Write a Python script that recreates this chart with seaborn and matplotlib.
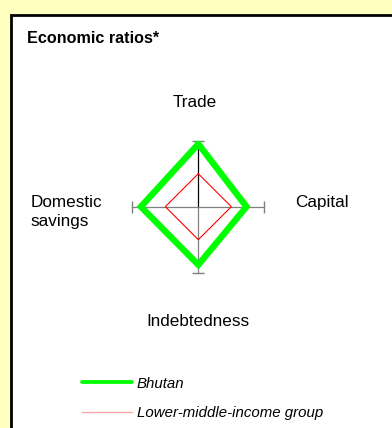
import matplotlib
matplotlib.use('Agg')
import matplotlib.pyplot as plt
import seaborn as sns
import pandas as pd
from matplotlib.patches import Rectangle
from matplotlib.lines import Line2D

# ---- data ----
axis_names = ['Trade', 'Capital', 'Indebtedness', 'Domestic savings']
bhutan = [0.95, 0.73, 0.88, 0.87]
group = [0.50, 0.50, 0.50, 0.50]
series_names = ['Bhutan', 'Lower-middle-income group']
title = 'Economic ratios*'

sns.set_style('white')
plt.rcParams['font.family'] = ['Liberation Sans', 'DejaVu Sans']
plt.rcParams['text.color'] = 'black'

W, H = 392, 428
fig = plt.figure(figsize=(W / 100, H / 100), dpi=100)
fig.patch.set_facecolor('#FFFFC0')

def fx(px):
    return px / W

def fy(py):
    return 1 - py / H

# white panel with black frame
fig.patches.append(Rectangle((fx(10.8), -0.1), 1.2, fy(14.6) + 0.1,
                             transform=fig.transFigure, facecolor='white',
                             edgecolor='black', linewidth=2.0, zorder=-5))

# radar axes: centre at (198.3, 206.7) px, 1 unit = 66 px
cx, cy, unit, ext = 198.3, 206.7, 66.0, 1.25
ax = fig.add_axes([fx(cx - ext * unit), fy(cy + ext * unit),
                   2 * ext * unit / W, 2 * ext * unit / H], zorder=2)
ax.patch.set_alpha(0)

directions = {'Trade': (0, 1), 'Capital': (1, 0),
              'Indebtedness': (0, -1), 'Domestic savings': (-1, 0)}

def polygon(values, name):
    rows = []
    for i, (a, v) in enumerate(zip(axis_names + axis_names[:1], values + values[:1])):
        dx, dy = directions[a]
        rows.append({'order': i, 'x': v * dx, 'y': v * dy, 'series': name})
    return pd.DataFrame(rows)

# cross axes
gray = '#808080'
ax.plot([0, 0], [0, 1], color='black', lw=0.9, zorder=1, clip_on=False)
ax.plot([0, 0], [-1, 0], color=gray, lw=0.9, zorder=1, clip_on=False)
ax.plot([-1, 1], [0, 0], color=gray, lw=0.9, zorder=1, clip_on=False)
ax.plot([0, 0], [-1, 1], ls='none', marker='_', ms=8, mew=1.0, color=gray, clip_on=False)
ax.plot([-1, 1], [0, 0], ls='none', marker='|', ms=8, mew=1.0, color=gray, clip_on=False)

df_b = polygon(bhutan, series_names[0])
df_g = polygon(group, series_names[1])
sns.lineplot(data=df_b, x='x', y='y', sort=False, estimator=None, ax=ax,
             color='#00FF00', lw=4.6, solid_joinstyle='miter', legend=False,
             zorder=3, clip_on=False)
sns.lineplot(data=df_g, x='x', y='y', sort=False, estimator=None, ax=ax,
             color='#FF0000', lw=0.8, solid_joinstyle='miter', legend=False,
             zorder=4, clip_on=False)
ax.set_xlim(-ext, ext)
ax.set_ylim(-ext, ext)
ax.axis('off')

# axis labels
fs = 12.3
kw = dict(va='baseline', fontsize=fs, color='black')
fig.text(fx(195), fy(106.7), axis_names[0], ha='center', **kw)
fig.text(fx(295), fy(206.7), axis_names[1], ha='left', **kw)
fig.text(fx(197.5), fy(326.3), axis_names[2], ha='center', **kw)
fig.text(fx(30.7), fy(206.7), 'Domestic', ha='left', **kw)
fig.text(fx(30.7), fy(226.2), 'savings', ha='left', **kw)

# title
fig.text(fx(26.7), fy(42.7), title, ha='left', va='baseline', fontsize=11.6,
         fontweight='bold', color='black')

# legend
fig.lines.append(Line2D([fx(82), fx(132)], [fy(382.3), fy(382.3)],
                        transform=fig.transFigure, color='#00FF00', lw=2.7,
                        solid_capstyle='round'))
fig.lines.append(Line2D([fx(82), fx(132)], [fy(411.7), fy(411.7)],
                        transform=fig.transFigure, color='#FF0000', lw=1.0,
                        alpha=0.35))
fig.text(fx(137), fy(388.3), series_names[0], ha='left', va='baseline',
         fontsize=10.8, fontstyle='italic', color='black')
fig.text(fx(137), fy(416.7), series_names[1], ha='left', va='baseline',
         fontsize=10.8, fontstyle='italic', color='black')

fig.savefig('out.png', dpi=100, facecolor=fig.get_facecolor())
